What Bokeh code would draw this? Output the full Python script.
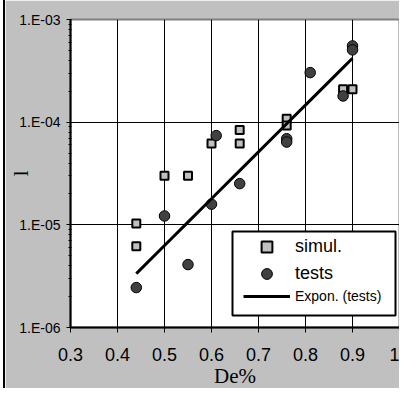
import numpy as np
from bokeh.plotting import figure
from bokeh.models import (FixedTicker, CustomJSTickFormatter, Legend, LegendItem,
                          BoxAnnotation, Range1d)
from bokeh.embed import file_html
from bokeh.resources import INLINE

# ---- data ----
sim_x = [0.44, 0.44, 0.50, 0.55, 0.60, 0.66, 0.66, 0.76, 0.76, 0.88, 0.90]
sim_y = [1.03e-5, 6.2e-6, 3.0e-5, 3.0e-5, 6.2e-5, 8.4e-5, 6.2e-5, 1.08e-4, 9.3e-5, 2.09e-4, 2.09e-4]

test_x = [0.44, 0.50, 0.55, 0.60, 0.61, 0.66, 0.76, 0.76, 0.81, 0.88, 0.90, 0.90]
test_y = [2.45e-6, 1.22e-5, 4.1e-6, 1.59e-5, 7.4e-5, 2.52e-5, 6.9e-5, 6.4e-5, 3.04e-4, 1.80e-4, 5.53e-4, 5.06e-4]

x_ticks = [0.3, 0.4, 0.5, 0.6, 0.7, 0.8, 0.9, 1.0]
y_ticks = [1e-6, 1e-5, 1e-4, 1e-3]
y_minor = [k * 10.0 ** e for e in (-6, -5, -4) for k in range(2, 10)]

legend_labels = ["simul.", "tests", "Expon. (tests)"]
x_title = "De%"
y_title = "l"

# exponential trend line fitted to the tests (as in the spreadsheet)
coef = np.polyfit(np.array(test_x), np.log(np.array(test_y)), 1)
fit_x = np.array(sorted(set(test_x)))
fit_y = np.exp(np.polyval(coef, fit_x))

# ---- figure ----
p = figure(width=396, height=390, y_axis_type="log",
           x_range=Range1d(0.3, 1.0), y_range=Range1d(1e-6, 1e-3),
           output_backend="svg", toolbar_location=None,
           min_border_left=64, min_border_top=19, min_border_bottom=63, min_border_right=2)
p.styles = {"border-top": "2px solid black", "border-left": "2px solid black",
            "margin-left": "3px", "margin-top": "-2px"}

p.border_fill_color = "#c0c0c0"
p.background_fill_color = "white"
p.outline_line_color = "#808080"
p.outline_line_width = 2

# axes
p.xaxis.ticker = FixedTicker(ticks=x_ticks)
p.xaxis.formatter = CustomJSTickFormatter(code="return String(Math.round(tick*10)/10);")
p.yaxis.ticker = FixedTicker(ticks=y_ticks, minor_ticks=y_minor)
p.yaxis.formatter = CustomJSTickFormatter(code=(
    "const e = Math.round(Math.log10(tick));"
    "return '1.E' + (e < 0 ? '-' : '+') + String(Math.abs(e)).padStart(2, '0');"))

for ax in (p.xaxis[0], p.yaxis[0]):
    ax.axis_line_color = "black"
    ax.axis_line_width = 2
    ax.major_tick_line_color = "black"
    ax.major_tick_line_width = 1
    ax.major_label_text_color = "black"
    ax.major_label_text_font = "Liberation Sans"
    ax.axis_label_text_font = "Liberation Serif"
    ax.axis_label_text_font_style = "normal"
    ax.axis_label_text_color = "black"

p.xaxis.major_tick_out = 5
p.xaxis.major_tick_in = 0
p.xaxis.minor_tick_line_color = None
p.xaxis.major_label_text_font_size = "18px"
p.xaxis.major_label_standoff = 15
p.xaxis.axis_label = x_title
p.xaxis.axis_label_text_font_size = "21px"
p.xaxis.axis_label_standoff = 0

p.yaxis.major_tick_out = 4
p.yaxis.major_tick_in = 1
p.yaxis.minor_tick_out = 2
p.yaxis.minor_tick_in = 1
p.yaxis.minor_tick_line_color = "black"
p.yaxis.major_label_text_font_size = "14px"
p.yaxis.major_label_standoff = 6
p.yaxis.axis_label = y_title
p.yaxis.axis_label_text_font_size = "22px"
p.yaxis.axis_label_standoff = -17

p.xgrid.grid_line_color = "black"
p.xgrid.grid_line_width = 1
p.ygrid.grid_line_color = "black"
p.ygrid.grid_line_width = 1

# ---- glyphs ----
r_sim = p.scatter(sim_x, sim_y, marker="square", size=8, fill_color="#c0c0c0",
                  line_color="black", line_width=2)
r_test = p.scatter(test_x, test_y, marker="circle", size=10.5, fill_color="#404040",
                   line_color="black", line_width=1)
r_fit = p.line(fit_x, fit_y, line_color="black", line_width=3)

# ---- legend ----
p.add_layout(BoxAnnotation(left=162, right=325, top=96, bottom=12,
                           left_units="screen", right_units="screen",
                           top_units="screen", bottom_units="screen",
                           fill_color="white", fill_alpha=1,
                           line_color="black", line_width=2, line_alpha=1))

leg1 = Legend(items=[LegendItem(label=legend_labels[0], renderers=[r_sim]),
                     LegendItem(label=legend_labels[1], renderers=[r_test])],
              location=(173, 40))
leg2 = Legend(items=[LegendItem(label=legend_labels[2], renderers=[r_fit])],
              location=(173, 22))
for lg, fs, h in ((leg1, "18px", 27), (leg2, "14px", 18)):
    lg.padding = 0
    lg.margin = 0
    lg.spacing = 0
    lg.glyph_width = 47
    lg.glyph_height = h
    lg.label_height = h
    lg.label_standoff = 5
    lg.label_text_font = "Liberation Sans"
    lg.label_text_font_size = fs
    lg.label_text_color = "black"
    lg.background_fill_alpha = 0
    lg.border_line_alpha = 0
    p.add_layout(lg)

open("out.html", "w").write(file_html(p, INLINE))
